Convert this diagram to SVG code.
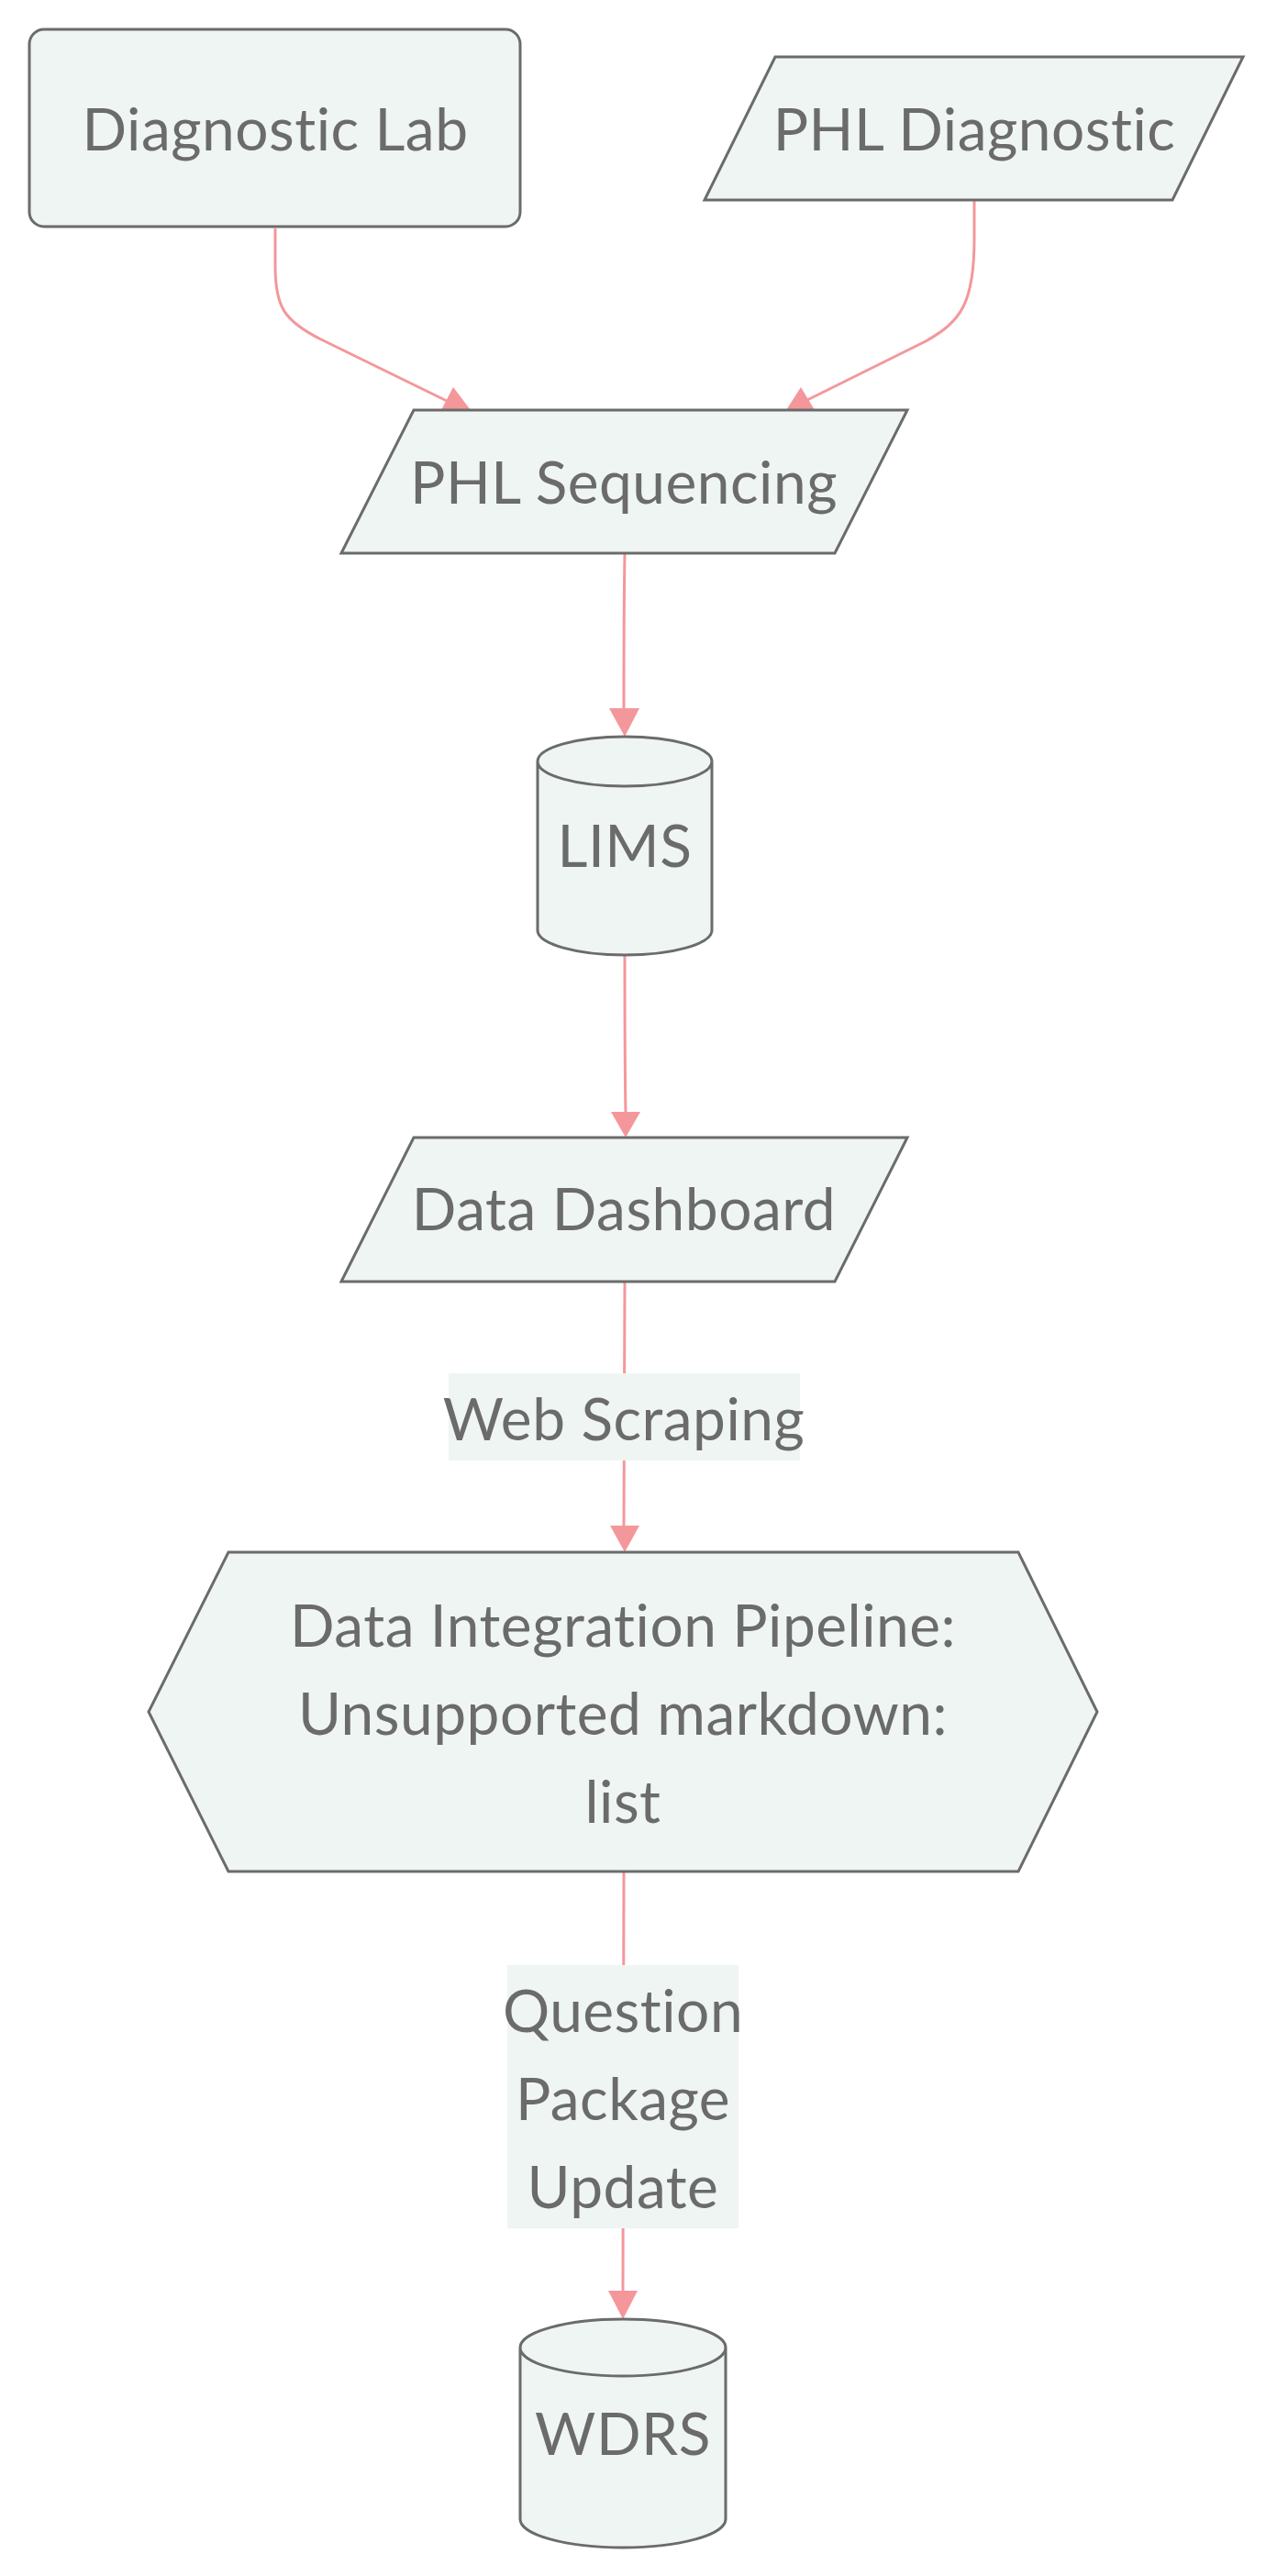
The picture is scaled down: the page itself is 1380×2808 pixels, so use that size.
<svg xmlns="http://www.w3.org/2000/svg" width="1380" height="2808" viewBox="0 0 1380 2808">
<defs>
<style>
.node{fill:#eff5f3;stroke:#6b6b6b;stroke-width:3}
.lbl{fill:#6b6b6b;font-family:Lato,"DejaVu Sans",sans-serif;font-size:64px;text-anchor:middle;dominant-baseline:central;font-variant-ligatures:none;font-feature-settings:"liga" 0,"clig" 0,"dlig" 0,"calt" 0;letter-spacing:0.5px}
.edge{fill:none;stroke:#f4979b;stroke-width:3}
.head{fill:#f4979b;stroke:none}
.ebg{fill:#eff5f3;stroke:none}
</style>
</defs>
<rect width="1380" height="2808" fill="#ffffff"/>
<g id="connectors">
<path class="edge" d="M300,249 L300,290 C300,335 310,350 350,370 L487,437"/>
<polygon class="head" points="494,422 481,447 513,447"/>
<path class="edge" d="M1062,218 L1062,260 C1062,330 1048,350 1009,372 L878,437"/>
<polygon class="head" points="873,422 857,447 888,447"/>
<path class="edge" d="M681,603 C680,660 680,720 680,775"/>
<polygon class="head" points="664,772 697,772 681,803"/>
<path class="edge" d="M681,1041 C681,1100 681,1160 682,1214"/>
<polygon class="head" points="666,1212 698,1212 682,1240"/>
<path class="edge" d="M681,1397 L680,1665"/>
<polygon class="head" points="665,1663 697,1663 681,1692"/>
<path class="edge" d="M680,2040 L679,2498"/>
<polygon class="head" points="663,2497 695,2497 679,2528"/>
<g id="edge-label-web-scraping">
<rect class="ebg" x="489" y="1497" width="383" height="95"/>
<text class="lbl" x="680" y="1545">Web Scraping</text>
</g>
<g id="edge-label-question">
<rect class="ebg" x="553" y="2142" width="252" height="287"/>
<text class="lbl" x="679" y="2190">Question</text>
<text class="lbl" x="679" y="2286">Package</text>
<text class="lbl" x="679" y="2382">Update</text>
</g>
</g>
<g id="diagnostic-lab">
<rect class="node" x="32" y="32" width="535" height="215" rx="16" ry="16"/>
<text class="lbl" x="300" y="139">Diagnostic Lab</text>
</g>
<g id="phl-diagnostic">
<polygon class="node" points="845,62 1355,62 1278,218 768,218"/>
<text class="lbl" x="1062" y="139">PHL Diagnostic</text>
</g>
<g id="phl-sequencing">
<polygon class="node" points="451,447 989,447 910,603 372,603"/>
<text class="lbl" x="680" y="524">PHL Sequencing</text>
</g>
<g id="lims">
<path class="node" d="M586,830 a95,27 0 0 0 190,0 a95,27 0 0 0 -190,0 l0,184 a95,27 0 0 0 190,0 l0,-184"/>
<text class="lbl" x="681" y="920">LIMS</text>
</g>
<g id="data-dashboard">
<polygon class="node" points="451,1240 989,1240 910,1397 372,1397"/>
<text class="lbl" x="680" y="1316">Data Dashboard</text>
</g>
<g id="data-integration-pipeline">
<polygon class="node" points="249,1692 1110,1692 1196,1866 1110,2040 249,2040 162,1866"/>
<text class="lbl" x="679" y="1770">Data Integration Pipeline:</text>
<text class="lbl" x="679" y="1866">Unsupported markdown:</text>
<text class="lbl" x="679" y="1962">list</text>
</g>
<g id="wdrs">
<path class="node" d="M567,2559 a112,31 0 0 0 224,0 a112,31 0 0 0 -224,0 l0,187 a112,31 0 0 0 224,0 l0,-187"/>
<text class="lbl" x="679" y="2651">WDRS</text>
</g>
</svg>
